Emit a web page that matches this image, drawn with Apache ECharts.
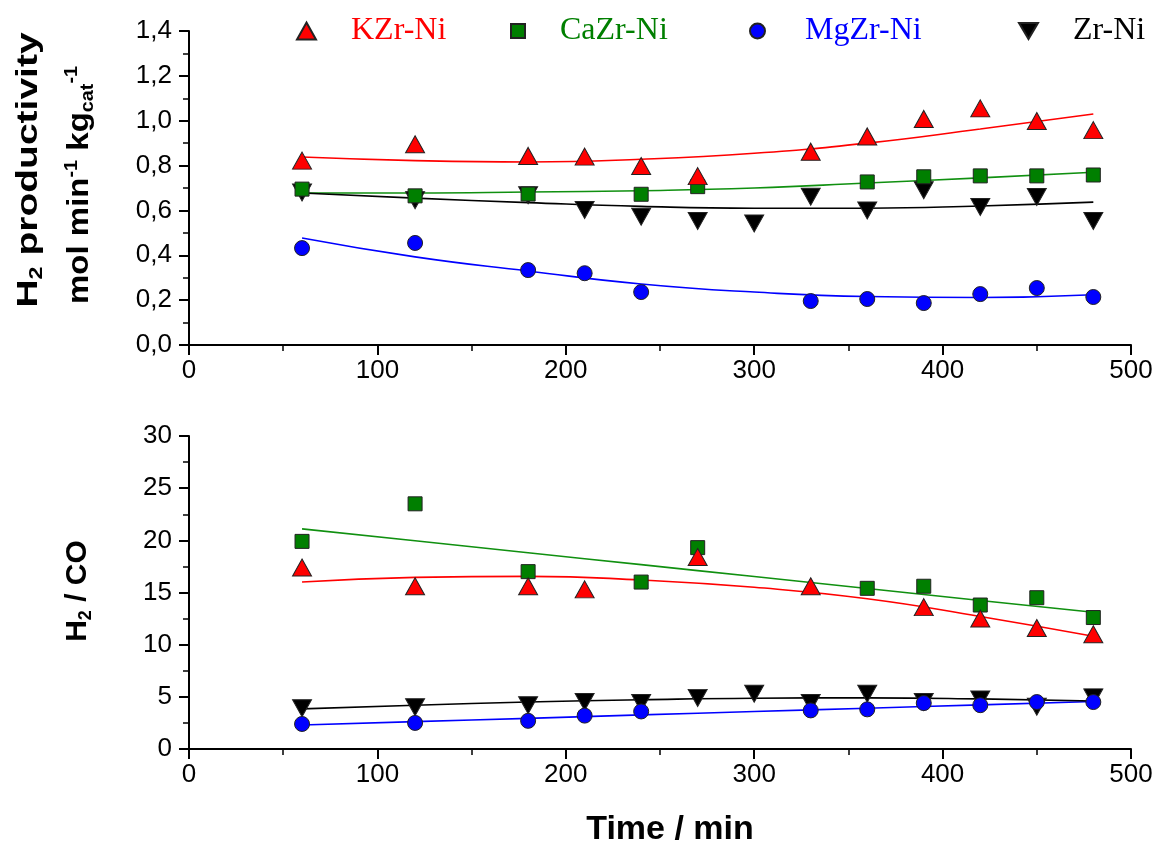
<!DOCTYPE html>
<html>
<head>
<meta charset="utf-8">
<script src="https://cdn.jsdelivr.net/npm/echarts@6/dist/echarts.min.js"></script>
<style>
html, body { margin: 0; padding: 0; background: #fff; }
#main { width: 1163px; height: 850px; }
</style>
</head>
<body>
<div id="main"></div>
<script>
// sampling times (min)
var times = [60, 120, 180, 210, 240, 270, 300, 330, 360, 390, 420, 450, 480];

// H2 productivity (mol min-1 kgcat-1)
var prodK  = [0.822, 0.895, 0.843, 0.840, 0.798, 0.753, null, 0.862, 0.930, 1.008, 1.055, 0.999, 0.958];
var prodCa = [0.695, 0.665, 0.673, null, 0.672, 0.706, null, null, 0.727, 0.750, 0.754, 0.754, 0.758];
var prodMg = [0.432, 0.455, 0.334, 0.320, 0.236, null, null, 0.196, 0.205, 0.187, 0.227, 0.254, 0.214];
var prodZr = [0.680, 0.646, 0.668, 0.602, 0.572, 0.553, 0.542, 0.661, 0.600, 0.690, 0.615, 0.660, 0.553];

// H2 / CO ratio
var ratioK  = [17.4, 15.6, 15.6, 15.3, null, 18.4, null, 15.6, null, 13.6, 12.5, 11.6, 11.0];
var ratioCa = [19.9, 23.5, 17.0, null, 16.0, 19.3, null, null, 15.4, 15.6, 13.8, 14.5, 12.6];
var ratioMg = [2.4, 2.5, 2.7, 3.2, 3.6, null, null, 3.7, 3.8, 4.4, 4.2, 4.5, 4.5];
var ratioZr = [3.9, 4.0, 4.2, 4.5, 4.4, 4.9, 5.3, 4.4, 5.3, 4.5, 4.75, 4.05, 4.95];

// trend lines
var fitTimes = [60, 120, 180, 240, 300, 360, 420, 480];
var prodFitK  = [0.838, 0.822, 0.816, 0.828, 0.855, 0.900, 0.963, 1.030];
var prodFitCa = [0.678, 0.678, 0.682, 0.688, 0.700, 0.722, 0.745, 0.770];
var prodFitMg = [0.477, 0.393, 0.330, 0.272, 0.236, 0.216, 0.212, 0.224];
var prodFitZr = [0.678, 0.655, 0.635, 0.618, 0.610, 0.610, 0.620, 0.637];
var ratioFitK  = [16.0, 16.45, 16.55, 16.2, 15.5, 14.4, 12.7, 10.8];
var ratioFitCa = [21.1, 19.96, 18.81, 17.67, 16.53, 15.39, 14.24, 13.1];
var ratioFitMg = [2.3, 2.62, 2.94, 3.27, 3.59, 3.91, 4.23, 4.55];
var ratioFitZr = [3.85, 4.2, 4.5, 4.72, 4.87, 4.9, 4.8, 4.6];

var xTicks = [0, 100, 200, 300, 400, 500];

var RED = '#ff0000', GREEN = '#007f00', BLUE = '#0000ff', BLACK = '#000000';
var DOWN = 'path://M0,0L20,0L10,17Z';

function pairs(xs, ys) {
    var out = [];
    for (var i = 0; i < xs.length; i++) {
        if (ys[i] !== null) out.push([xs[i], ys[i]]);
    }
    return out;
}

function marks(name, symbol, size, color, idx, vals) {
    return {
        name: name,
        type: 'scatter',
        xAxisIndex: idx,
        yAxisIndex: idx,
        symbol: symbol,
        symbolSize: size,
        z: 3,
        itemStyle: { color: color, borderColor: '#222', borderWidth: 1, opacity: 1 },
        emphasis: { disabled: true },
        data: pairs(times, vals)
    };
}

function trend(name, color, idx, vals) {
    return {
        name: name,
        type: 'line',
        xAxisIndex: idx,
        yAxisIndex: idx,
        smooth: true,
        showSymbol: false,
        z: 2,
        lineStyle: { color: color, width: 1.6 },
        emphasis: { disabled: true },
        data: pairs(fitTimes, vals)
    };
}

function xAxisOf(idx) {
    return {
        type: 'value',
        gridIndex: idx,
        min: 0,
        max: 500,
        interval: 100,
        axisLine: { show: true, onZero: false, lineStyle: { color: '#000', width: 2 } },
        axisTick: { show: true, inside: false, length: 10, lineStyle: { color: '#000', width: 2 } },
        minorTick: { show: true, splitNumber: 2, length: 6, lineStyle: { color: '#000', width: 1.5 } },
        splitLine: { show: false },
        axisLabel: {
            color: '#000', fontSize: 26, fontFamily: 'Liberation Sans, Arial', margin: 13,
            formatter: function (v) { return xTicks.indexOf(v) >= 0 ? String(v) : ''; }
        }
    };
}

function yAxisOf(idx, max, step, fmt) {
    return {
        type: 'value',
        gridIndex: idx,
        min: 0,
        max: max,
        interval: step,
        axisLine: { show: true, onZero: false, lineStyle: { color: '#000', width: 2 } },
        axisTick: { show: true, inside: false, length: 10, lineStyle: { color: '#000', width: 2 } },
        minorTick: { show: true, splitNumber: 2, length: 6, lineStyle: { color: '#000', width: 1.5 } },
        splitLine: { show: false },
        axisLabel: { color: '#000', fontSize: 26, fontFamily: 'Liberation Sans, Arial', margin: 17, formatter: fmt }
    };
}

function legendOf(left, w, h, pad, name, color) {
    return {
        left: left,
        top: 10,
        itemWidth: w,
        itemHeight: h,
        selectedMode: false,
        textStyle: { fontFamily: 'Liberation Serif, Times New Roman', fontSize: 32, padding: [0, 0, 0, pad] },
        data: [{ name: name, textStyle: { color: color } }]
    };
}

var titleRich = {
    b: { fontSize: 30, fontWeight: 'bold', fontFamily: 'Liberation Sans, Arial', lineHeight: 34, fill: '#000' },
    s: { fontSize: 18, fontWeight: 'bold', fontFamily: 'Liberation Sans, Arial', lineHeight: 18, verticalAlign: 'bottom', fill: '#000' },
    p: { fontSize: 18, fontWeight: 'bold', fontFamily: 'Liberation Sans, Arial', lineHeight: 18, verticalAlign: 'top', fill: '#000' }
};

var myChart = echarts.init(document.getElementById('main'));

var option = {
    animation: false,
    backgroundColor: '#fff',
    grid: [
        { left: 189, right: 32, top: 31, height: 314 },
        { left: 189, right: 32, top: 436, height: 313 }
    ],
    xAxis: [xAxisOf(0), xAxisOf(1)],
    yAxis: [
        yAxisOf(0, 1.4, 0.2, function (v) { return v.toFixed(1).replace('.', ','); }),
        yAxisOf(1, 30, 5, function (v) { return String(v); })
    ],
    legend: [
        legendOf(291, 19, 17, 30, 'KZr-Ni', RED),
        legendOf(505, 14, 14, 30, 'CaZr-Ni', GREEN),
        legendOf(744, 15, 15, 35, 'MgZr-Ni', BLUE),
        legendOf(1013, 19, 17, 30, 'Zr-Ni', BLACK)
    ],
    graphic: [
        {
            type: 'text', x: 29, y: 170, rotation: Math.PI / 2, scaleX: 1.3, z: 10,
            style: { text: '{b|H}{s|2}{b| productivity}', rich: titleRich, align: 'center', verticalAlign: 'middle' }
        },
        {
            type: 'text', x: 80, y: 185, rotation: Math.PI / 2, scaleX: 1.1, z: 10,
            style: { text: '{b|mol min}{p|-1}{b| kg}{s|cat}{p|-1}', rich: titleRich, align: 'center', verticalAlign: 'middle' }
        },
        {
            type: 'text', x: 78, y: 591, rotation: Math.PI / 2, z: 10,
            style: { text: '{b|H}{s|2}{b| / CO}', rich: titleRich, align: 'center', verticalAlign: 'middle' }
        },
        {
            type: 'text', x: 670, y: 830, z: 10,
            style: { text: 'Time / min', fontSize: 34, fontWeight: 'bold', fontFamily: 'Liberation Sans, Arial', fill: '#000', align: 'center', verticalAlign: 'middle' }
        }
    ],
    series: [
        trend('KZr-Ni fit', RED, 0, prodFitK),
        trend('CaZr-Ni fit', '#109010', 0, prodFitCa),
        trend('MgZr-Ni fit', BLUE, 0, prodFitMg),
        trend('Zr-Ni fit', BLACK, 0, prodFitZr),
        marks('Zr-Ni', DOWN, [19, 17], BLACK, 0, prodZr),
        marks('CaZr-Ni', 'rect', [14, 14], GREEN, 0, prodCa),
        marks('KZr-Ni', 'triangle', [19, 17], RED, 0, prodK),
        marks('MgZr-Ni', 'circle', 15, BLUE, 0, prodMg),

        trend('KZr-Ni fit 2', RED, 1, ratioFitK),
        trend('CaZr-Ni fit 2', '#109010', 1, ratioFitCa),
        trend('MgZr-Ni fit 2', BLUE, 1, ratioFitMg),
        trend('Zr-Ni fit 2', BLACK, 1, ratioFitZr),
        marks('Zr-Ni', DOWN, [19, 17], BLACK, 1, ratioZr),
        marks('CaZr-Ni', 'rect', [14, 14], GREEN, 1, ratioCa),
        marks('KZr-Ni', 'triangle', [19, 17], RED, 1, ratioK),
        marks('MgZr-Ni', 'circle', 15, BLUE, 1, ratioMg)
    ]
};

myChart.setOption(option);
</script>
</body>
</html>
